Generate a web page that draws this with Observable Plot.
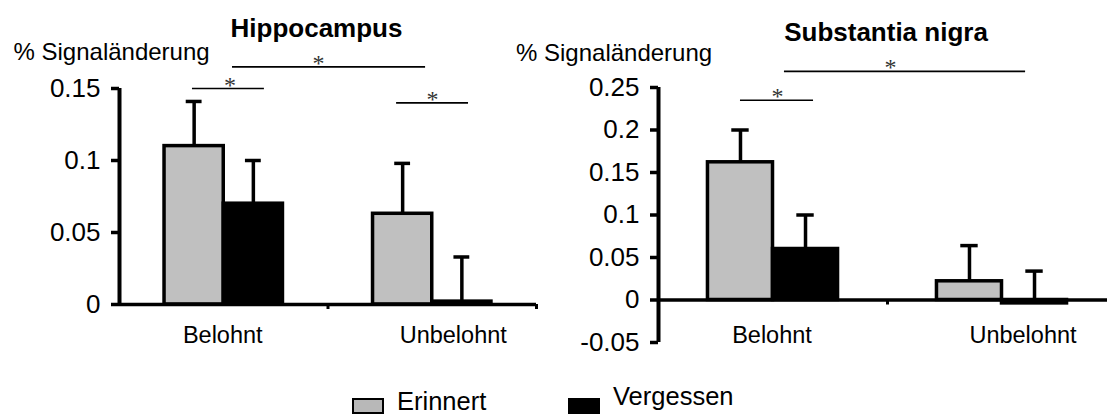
<!DOCTYPE html>
<html><head><meta charset="utf-8">
<script src="https://cdn.jsdelivr.net/npm/d3@7"></script>
<script src="https://cdn.jsdelivr.net/npm/@observablehq/plot@0.6"></script>
<style>
html,body{margin:0;padding:0;background:#fff;}
#wrap{position:relative;width:1107px;height:415px;overflow:hidden;font-family:"Liberation Sans",Arial,sans-serif;}
#wrap svg{position:absolute;top:0;overflow:visible;}
.sw{position:absolute;box-sizing:border-box;border:2px solid #000;}
.lt{position:absolute;font-size:25.5px;line-height:20px;white-space:nowrap;color:#000;}
</style></head><body><div id="wrap"></div>
<script>
// ---- data ----
const categories = ["Belohnt", "Unbelohnt"];
const series = ["Erinnert", "Vergessen"];
const hippoErinnert = [0.110, 0.063];
const hippoVergessen = [0.070, 0.002];
const hippoErinnertErr = [0.031, 0.035];
const hippoVergessenErr = [0.030, 0.031];
const nigraErinnert = [0.162, 0.022];
const nigraVergessen = [0.060, -0.004];
const nigraErinnertErr = [0.038, 0.042];
const nigraVergessenErr = [0.040, 0.038];
const hippoTicks = [0, 0.05, 0.1, 0.15];
const nigraTicks = [-0.05, 0, 0.05, 0.1, 0.15, 0.2, 0.25];
const titles = ["Hippocampus", "Substantia nigra"];
const yLabel = "% Signaländerung";
// significance brackets (x in category units, level in % signal change)
const hippoSig = [
  {from: 0.35, to: 0.695, level: 0.150, star: 0.53},
  {from: 0.542, to: 1.468, level: 0.165, star: 0.954},
  {from: 1.329, to: 1.674, level: 0.140, star: 1.501}
];
const nigraSig = [
  {from: 0.358, to: 0.677, level: 0.235, star: 0.52},
  {from: 0.55, to: 1.603, level: 0.269, star: 1.013}
];

// ---- build ----
const BAR = 0.284, CAP = 0.038;
function rows(e, v, ee, ve) {
  return categories.flatMap((c, i) => [
    {cat: c, i, series: series[0], value: e[i], err: ee[i]},
    {cat: c, i, series: series[1], value: v[i], err: ve[i]}
  ]);
}
const bx1 = d => d.i + (d.series === series[0] ? 0.5 - BAR : 0.5);
const bx2 = d => d.i + (d.series === series[0] ? 0.5 : 0.5 + BAR);
const bxc = d => (bx1(d) + bx2(d)) / 2;
const fmt = d => String(+d.toFixed(2));
const FONT = "'Liberation Sans', Arial, sans-serif";

function panel(o) {
  const dom = [o.ticks[0], o.ticks[o.ticks.length - 1]];
  return Plot.plot({
    width: o.width, height: 370,
    marginLeft: o.marginLeft, marginRight: o.marginRight, marginTop: o.marginTop, marginBottom: o.marginBottom,
    x: {domain: [0, categories.length], axis: null},
    y: {domain: dom},
    color: {domain: series, range: ["#c0c0c0", "#000"]},
    style: {background: "transparent", overflow: "visible", fontFamily: FONT, color: "#000"},
    marks: [
      Plot.rect(o.data, {x1: bx1, x2: bx2, y1: 0, y2: "value", fill: "series", stroke: "#000", strokeWidth: 3.5}),
      Plot.ruleX(o.data, {x: bxc, y1: "value", y2: d => d.value + d.err, stroke: "#000", strokeWidth: 3.5}),
      Plot.ruleY(o.data, {y: d => d.value + d.err, x1: d => bxc(d) - CAP, x2: d => bxc(d) + CAP, stroke: "#000", strokeWidth: 3.5}),
      Plot.ruleY([0], {stroke: "#000", strokeWidth: 3.5}),
      Plot.ruleX(d3.range(1, categories.length + 1), {x: d => d, y1: 0, y2: 0, insetBottom: -5, stroke: "#000", strokeWidth: 3}),
      Plot.ruleX([0], {y1: dom[0], y2: dom[1], stroke: "#000", strokeWidth: 4}),
      Plot.axisY(o.ticks, {tickSize: 8, tickPadding: 11, strokeWidth: 3.5, fontSize: 26, tickFormat: fmt, label: null, fill: "#000"}),
      Plot.text([categories[0]], {x: 0.5, y: 0, text: d => d, dy: o.catDy, dx: -1, lineAnchor: "bottom", fontSize: 23.5, fill: "#000"}),
      Plot.text([categories[1]], {x: 1.5, y: 0, text: d => d, dy: o.catDy, dx: 21, lineAnchor: "bottom", fontSize: 23.5, fill: "#000"}),
      Plot.ruleY(o.sig, {y: "level", x1: "from", x2: "to", stroke: "#000", strokeWidth: 1.6}),
      Plot.text(o.sig, {x: "star", y: "level", text: () => "*", dy: 4, lineAnchor: "bottom", fontFamily: "'Liberation Serif', 'Times New Roman', serif", fontSize: 24, fill: "#333"}),
      Plot.text([o.title], {frameAnchor: "top", text: d => d, dx: o.titleDx, dy: o.titleDy, lineAnchor: "bottom", fontSize: 26, fontWeight: "bold", fill: "#000"}),
      Plot.text([yLabel], {frameAnchor: "top-left", text: d => d, textAnchor: "start", dx: o.labelDx, dy: o.labelDy, lineAnchor: "bottom", fontSize: 24, fill: "#000"})
    ]
  });
}

const wrap = document.getElementById("wrap");
const left = panel({
  width: 540, marginLeft: 119, marginRight: 4, marginTop: 88, marginBottom: 66,
  ticks: hippoTicks, data: rows(hippoErinnert, hippoVergessen, hippoErinnertErr, hippoVergessenErr),
  sig: hippoSig, title: titles[0], titleDx: -11.5, titleDy: -52, labelDx: -106, labelDy: -29, catDy: 38
});
left.style.left = "0px";
wrap.appendChild(left);
const right = panel({
  width: 616, marginLeft: 158, marginRight: 0, marginTop: 87, marginBottom: 28,
  ticks: nigraTicks, data: rows(nigraErinnert, nigraVergessen, nigraErinnertErr, nigraVergessenErr),
  sig: nigraSig, title: titles[1], titleDx: -1.5, titleDy: -47, labelDx: -142.5, labelDy: -27, catDy: 43
});
right.style.left = "500px";
wrap.appendChild(right);

// ---- legend ----
const legendColors = ["#b8b8b8", "#000"];
const legendPos = [{sx: 352, tx: 397, ty: 391}, {sx: 568, tx: 613, ty: 386}];
series.forEach((s, i) => {
  const sw = document.createElement("div");
  sw.className = "sw";
  Object.assign(sw.style, {left: legendPos[i].sx + "px", top: "398px", width: "32px", height: "16px", background: legendColors[i]});
  wrap.appendChild(sw);
  const t = document.createElement("div");
  t.className = "lt";
  t.textContent = s;
  Object.assign(t.style, {left: legendPos[i].tx + "px", top: legendPos[i].ty + "px"});
  wrap.appendChild(t);
});
</script>
</body></html>
